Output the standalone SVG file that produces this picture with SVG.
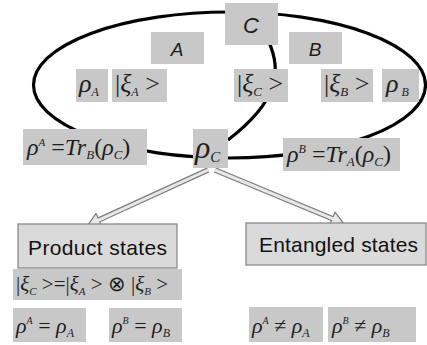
<svg xmlns="http://www.w3.org/2000/svg" width="427" height="345" viewBox="0 0 427 345">
<style>
.box{fill:#c8c8c8}
.lbox{fill:#dadada;stroke:#8a8a8a;stroke-width:1.3}
.m{font-family:"Liberation Serif","Times New Roman",serif;font-style:italic;fill:#1e1e1e}
.u{font-style:normal}
.lab{font-family:"Liberation Sans",Arial,sans-serif;font-style:italic;fill:#1e1e1e;text-anchor:middle}
.t{font-family:"Liberation Sans",Arial,sans-serif;fill:#111}
.curve{fill:none;stroke:#000;stroke-width:3.2}
.sh-o{stroke:#7f7f7f;stroke-width:5.5;fill:none}
.sh-i{stroke:#e8e8e8;stroke-width:3;fill:none}
.head{fill:#e8e8e8;stroke:#7f7f7f;stroke-width:1.3;stroke-linejoin:round}
</style>
<rect width="427" height="345" fill="#fff"/>
<g id="connectors">
  <ellipse cx="229.5" cy="85" rx="196" ry="73" class="curve"/>
  <path d="M268 40 C282 70 280 100 228 140" class="curve"/>
  <g transform="translate(208 170) rotate(155.4)">
    <line x1="0" y1="0" x2="121" y2="0" class="sh-o"/>
    <polygon points="132,0 120,-7 120,7" class="head"/>
    <line x1="0" y1="0" x2="122" y2="0" class="sh-i"/>
  </g>
  <g transform="translate(215 170) rotate(22.5)">
    <line x1="0" y1="0" x2="128" y2="0" class="sh-o"/>
    <polygon points="139,0 127,-7 127,7" class="head"/>
    <line x1="0" y1="0" x2="129" y2="0" class="sh-i"/>
  </g>
</g>
<g id="nodeC"><rect x="225" y="3" width="53" height="42" class="box"/><text x="251" y="33" font-size="22" class="lab">C</text></g>
<g id="nodeA"><rect x="151" y="32" width="53" height="32" class="box"/><text x="177" y="56" font-size="19" class="lab">A</text></g>
<g id="nodeB"><rect x="289" y="32" width="53" height="32" class="box"/><text x="315" y="56" font-size="19" class="lab">B</text></g>
<g id="rhoA"><rect x="76" y="69" width="32" height="33" class="box"/><text x="79" y="92" font-size="26" class="m">ρ<tspan dy="4" font-size="12">A</tspan></text></g>
<g id="xiA"><rect x="112" y="69" width="55" height="33" class="box"/><text x="115" y="92" font-size="26" class="m"><tspan class="u">|</tspan>ξ<tspan dy="4" font-size="12">A</tspan><tspan dy="-4" class="u"> &gt;</tspan></text></g>
<g id="xiC"><rect x="234" y="69" width="54" height="33" class="box"/><text x="237" y="92" font-size="26" class="m"><tspan class="u">|</tspan>ξ<tspan dy="4" font-size="13">C</tspan><tspan dy="-4" class="u"> &gt;</tspan></text></g>
<g id="xiB"><rect x="321" y="69" width="52" height="33" class="box"/><text x="324" y="92" font-size="26" class="m"><tspan class="u">|</tspan>ξ<tspan dy="4" font-size="13">B</tspan><tspan dy="-4" class="u"> &gt;</tspan></text></g>
<g id="rhoB"><rect x="382" y="69" width="37" height="33" class="box"/><text x="386" y="92" font-size="26" class="m">ρ<tspan dy="4" font-size="12"> B</tspan></text></g>
<g id="traceA"><rect x="23" y="129" width="124" height="36" class="box"/><text x="27" y="155" font-size="24" class="m">ρ<tspan dy="-9" font-size="11">A</tspan><tspan dy="9" class="u"> =</tspan>Tr<tspan dy="4" font-size="13">B</tspan><tspan dy="-4" class="u">(</tspan>ρ<tspan dy="4" font-size="13">C</tspan><tspan dy="-4" class="u">)</tspan></text></g>
<g id="rhoC"><rect x="193" y="129" width="35" height="39" class="box"/><text x="195" y="158" font-size="32" class="m">ρ<tspan dy="4" font-size="15">C</tspan></text></g>
<g id="traceB"><rect x="283" y="138" width="117" height="33" class="box"/><text x="287" y="162" font-size="24" class="m">ρ<tspan dy="-9" font-size="12">B</tspan><tspan dy="9" class="u"> =</tspan>Tr<tspan dy="4" font-size="13">A</tspan><tspan dy="-4" class="u">(</tspan>ρ<tspan dy="4" font-size="13">C</tspan><tspan dy="-4" class="u">)</tspan></text></g>
<g id="product"><rect x="18" y="224" width="159" height="44" class="lbox"/><text x="28" y="255" font-size="21" class="t" textLength="139" lengthAdjust="spacing">Product  states</text></g>
<g id="entangled"><rect x="246" y="223" width="180" height="42" class="lbox"/><text x="259" y="252" font-size="21" class="t" textLength="159" lengthAdjust="spacing">Entangled  states</text></g>
<g id="prodEq"><rect x="13" y="269" width="169" height="31" class="box"/><text x="16" y="291" font-size="21" class="m"><tspan class="u">|</tspan>ξ<tspan dy="4" font-size="11">C</tspan><tspan dy="-4" class="u"> &gt;=|</tspan>ξ<tspan dy="4" font-size="11">A</tspan><tspan dy="-4" class="u"> &gt; ⊗ |</tspan>ξ<tspan dy="4" font-size="11">B</tspan><tspan dy="-4" class="u"> &gt;</tspan></text></g>
<g id="eqA"><rect x="13" y="308" width="73" height="34" class="box"/><text x="16" y="333" font-size="22" class="m">ρ<tspan dy="-9" font-size="10">A</tspan><tspan dy="9" class="u"> = </tspan>ρ<tspan dy="4" font-size="12">A</tspan></text></g>
<g id="eqB"><rect x="109" y="308" width="73" height="34" class="box"/><text x="112" y="333" font-size="22" class="m">ρ<tspan dy="-9" font-size="10">B</tspan><tspan dy="9" class="u"> = </tspan>ρ<tspan dy="4" font-size="12">B</tspan></text></g>
<g id="neqA"><rect x="249" y="307" width="74" height="35" class="box"/><text x="252" y="333" font-size="22" class="m">ρ<tspan dy="-9" font-size="10">A</tspan><tspan dy="9" class="u"> ≠ </tspan>ρ<tspan dy="4" font-size="12">A</tspan></text></g>
<g id="neqB"><rect x="328" y="307" width="88" height="35" class="box"/><text x="332" y="333" font-size="22" class="m">ρ<tspan dy="-9" font-size="10">B</tspan><tspan dy="9" class="u"> ≠ </tspan>ρ<tspan dy="4" font-size="12">B</tspan></text></g>
</svg>
